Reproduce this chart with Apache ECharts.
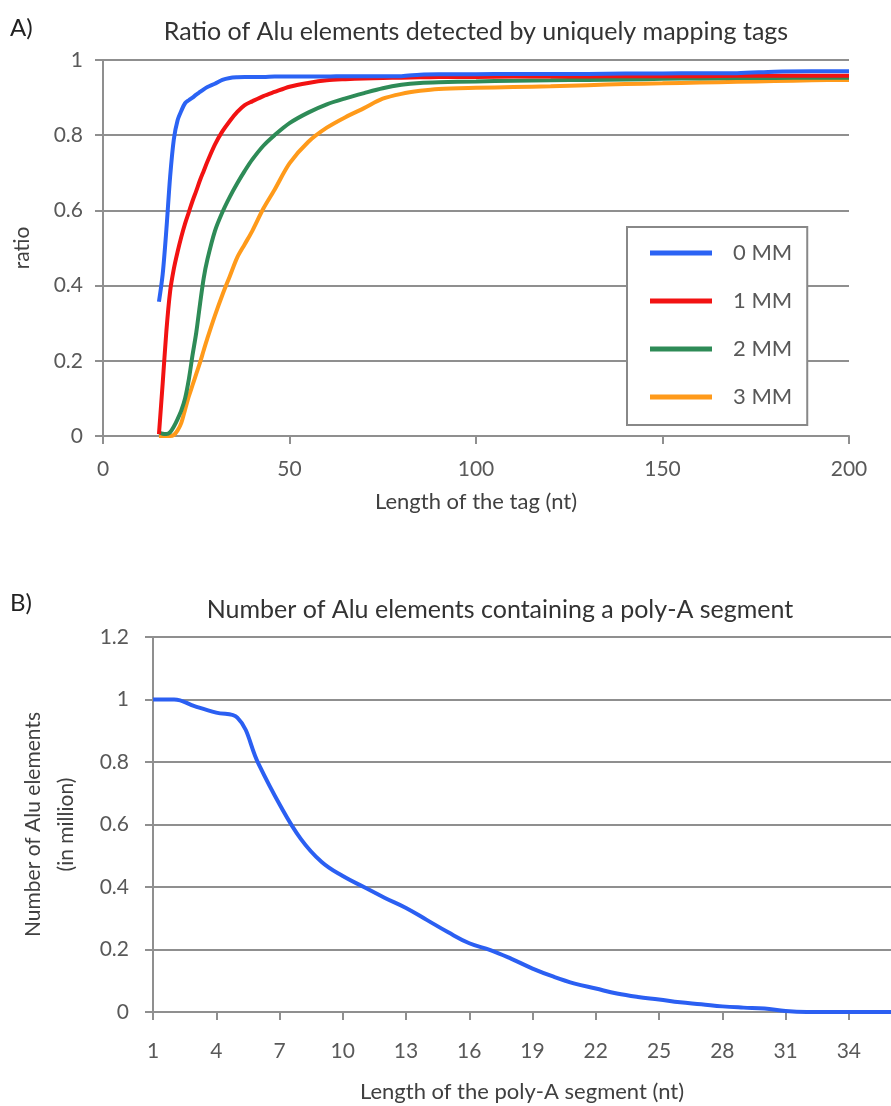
<!DOCTYPE html>
<html>
<head>
<meta charset="utf-8">
<script src="https://cdn.jsdelivr.net/npm/echarts@6/dist/echarts.min.js"></script>
<style>html,body{margin:0;padding:0;background:#fff}#c{width:891px;height:1106px}</style>
</head>
<body>
<div id="c"></div>
<script>
// ---- Panel A data ----
const tagLength = [15,16,17,18,19,20,21,22,23,24,25,26,27,28,30,32,34,36,38,40,43,46,50,55,60,65,70,75,80,85,90,100,110,120,130,140,150,160,170,180,190,200];
const mm0 = [.357,.43,.55,.69,.79,.84,.865,.885,.893,.90,.908,.915,.922,.928,.937,.947,.952,.954,.955,.955,.955,.956,.956,.956,.956,.957,.957,.957,.957,.961,.962,.962,.963,.963,.963,.964,.964,.965,.965,.969,.97,.97];
const mm1 = [.005,.14,.28,.385,.445,.49,.53,.565,.595,.625,.652,.68,.705,.73,.775,.81,.838,.862,.88,.89,.904,.915,.929,.939,.946,.949,.951,.952,.953,.954,.955,.955,.956,.956,.956,.957,.957,.957,.958,.958,.958,.958];
const mm2 = [.01,.006,.005,.01,.025,.045,.068,.1,.15,.215,.275,.35,.42,.47,.545,.595,.636,.672,.705,.735,.772,.8,.832,.86,.882,.898,.912,.925,.934,.939,.941,.943,.945,.946,.947,.948,.95,.951,.952,.952,.953,.953];
const mm3 = [0,0,0,0,.003,.015,.035,.07,.105,.135,.165,.195,.228,.26,.32,.375,.425,.475,.51,.545,.605,.655,.725,.782,.82,.848,.872,.897,.91,.918,.923,.926,.928,.93,.933,.936,.938,.94,.942,.944,.946,.947];
const seriesNamesA = ['0 MM','1 MM','2 MM','3 MM'];

// ---- Panel B data ----
const polyALength = ['1','2','3','4','5','6','7','8','9','10','11','12','13','14','15','16','17','18','19','20','21','22','23','24','25','26','27','28','29','30','31','32','33','34','35','36'];
const aluCount = [1.0,1.0,.978,.958,.942,.795,.665,.555,.48,.435,.40,.365,.333,.294,.255,.22,.198,.17,.139,.113,.091,.075,.059,.048,.04,.031,.025,.018,.014,.011,.003,0,0,0,0,0];

const FONT = 'Lato';
const colors = ['#2b63f4','#f21212','#2e8b57','#ff9a1a'];
const gridColor = '#8f8f8f';
const labelColor = '#595959';
const nameColor = '#404040';

const chart = echarts.init(document.getElementById('c'), null, {renderer:'canvas'});
const pair = (ys) => tagLength.map((x,i)=>[x, ys[i]]);

const option = {
  backgroundColor: '#fff',
  animation: false,
  textStyle: {fontFamily: FONT},
  grid: [
    {left: 103, right: 42, top: 60, height: 376},
    {left: 153, right: -26, top: 637, height: 375}
  ],
  xAxis: [
    {gridIndex:0, type:'value', min:0, max:200, interval:50,
     name:'Length of the tag (nt)', nameLocation:'middle', nameGap:55,
     nameTextStyle:{fontSize:22, color:nameColor, fontFamily:FONT},
     axisLine:{show:true, lineStyle:{color:gridColor, width:2}},
     axisTick:{show:true, length:8, lineStyle:{color:gridColor, width:2}},
     axisLabel:{fontSize:21, color:labelColor, margin:23, fontFamily:FONT},
     splitLine:{show:false}},
    {gridIndex:1, type:'category', data: polyALength, boundaryGap:false,
     name:'Length of the poly-A segment (nt)', nameLocation:'middle', nameGap:69,
     nameTextStyle:{fontSize:22, color:nameColor, fontFamily:FONT},
     axisLine:{show:true, lineStyle:{color:gridColor, width:2}},
     axisTick:{show:true, length:8, interval:2, lineStyle:{color:gridColor, width:2}},
     axisLabel:{fontSize:21, color:labelColor, margin:29, interval:2, fontFamily:FONT},
     splitLine:{show:false}}
  ],
  yAxis: [
    {gridIndex:0, type:'value', min:0, max:1, interval:0.2,
     name:'ratio', nameLocation:'middle', nameGap:70, nameRotate:90,
     nameTextStyle:{fontSize:21, color:nameColor, fontFamily:FONT},
     axisLine:{show:true, lineStyle:{color:gridColor, width:2}},
     axisTick:{show:true, length:8, lineStyle:{color:gridColor, width:2}},
     axisLabel:{fontSize:21, color:labelColor, margin:20, fontFamily:FONT},
     splitLine:{show:true, lineStyle:{color:gridColor, width:2}}},
    {gridIndex:1, type:'value', min:0, max:1.2, interval:0.2,
     name:'Number of Alu elements\n(in million)', nameLocation:'middle', nameGap:70, nameRotate:90,
     nameTextStyle:{fontSize:21, color:nameColor, lineHeight:33, fontFamily:FONT},
     axisLine:{show:true, lineStyle:{color:gridColor, width:2}},
     axisTick:{show:true, length:8, lineStyle:{color:gridColor, width:2}},
     axisLabel:{fontSize:21, color:labelColor, margin:24, fontFamily:FONT},
     splitLine:{show:true, lineStyle:{color:gridColor, width:2}}}
  ],
  legend: {
    data: seriesNamesA, orient:'vertical', left:627, top:227,
    backgroundColor:'#fff', borderColor:'#888', borderWidth:2,
    padding:[14,15,16,23], itemGap:24, itemWidth:62, itemHeight:5, icon:'rect',
    textStyle:{fontSize:22, color:labelColor, lineHeight:24, padding:[0,0,0,16], fontFamily:FONT}
  },
  graphic: [
    {type:'text', left:10, top:16, style:{text:'A)', font:'24px Lato', fill:'#222'}},
    {type:'text', left:10, top:591, style:{text:'B)', font:'24px Lato', fill:'#222'}},
    {type:'text', x:476, y:32, style:{text:'Ratio of Alu elements detected by uniquely mapping tags', font:'25px Lato', fill:'#333', align:'center', verticalAlign:'middle'}},
    {type:'text', x:500, y:610, style:{text:'Number of Alu elements containing a poly-A segment', font:'25px Lato', fill:'#333', align:'center', verticalAlign:'middle'}}
  ],
  series: [
    ...[mm0,mm1,mm2,mm3].map((ys,i)=>({
      name: seriesNamesA[i], type:'line', xAxisIndex:0, yAxisIndex:0,
      data: pair(ys), showSymbol:false, smooth:0.3,
      lineStyle:{color:colors[i], width:4}, itemStyle:{color:colors[i]}, z: 10-i
    })),
    {name:'Alu', type:'line', xAxisIndex:1, yAxisIndex:1, data: aluCount,
     showSymbol:false, smooth:0.4, lineStyle:{color:'#2b5ff2', width:4}, itemStyle:{color:'#2b5ff2'}}
  ]
};
chart.setOption(option);
</script>
</body>
</html>
